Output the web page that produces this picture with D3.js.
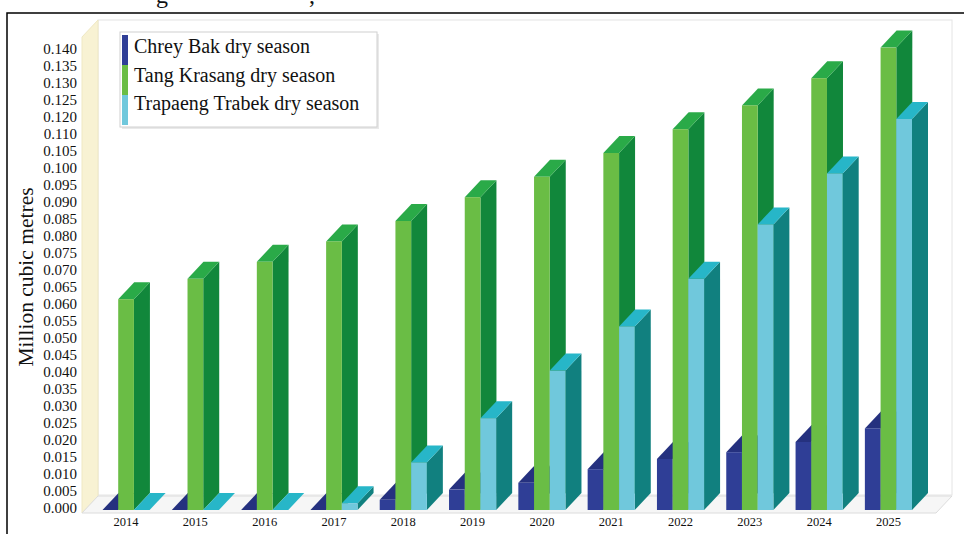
<!DOCTYPE html>
<html>
<head>
<meta charset="utf-8">
<script src="https://d3js.org/d3.v7.min.js"></script>
<style>
body{margin:0;background:#fff;}
svg text{font-family:"Liberation Serif","Times New Roman",serif;fill:#111;}
.domain{display:none;}
</style>
</head>
<body>
<div id="chart"></div>
<script>
var years = ["2014","2015","2016","2017","2018","2019","2020","2021","2022","2023","2024","2025"];
var seriesNames = ["Chrey Bak dry season","Tang Krasang dry season","Trapaeng Trabek dry season"];
var chreyBak = [0,0,0,0,0.003,0.006,0.008,0.012,0.015,0.017,0.020,0.024];
var tangKrasang = [0.062,0.068,0.073,0.079,0.085,0.092,0.098,0.105,0.112,0.119,0.127,0.136];
var trapaengTrabek = [0,0,0,0.002,0.014,0.027,0.041,0.054,0.068,0.084,0.099,0.115];
/* the printed axis skips 0.115 */
var tickLabels = ["0.000","0.005","0.010","0.015","0.020","0.025","0.030","0.035","0.040","0.045",
	"0.050","0.055","0.060","0.065","0.070","0.075","0.080","0.085","0.090","0.095",
	"0.100","0.105","0.110","0.120","0.125","0.130","0.135","0.140"];

var seriesData = [chreyBak, tangKrasang, trapaengTrabek];
var faceColors = [
	{front:"#2f3e96", top:"#25317f", side:"#1c2566"},
	{front:"#6abd45", top:"#2aaa48", side:"#11873b"},
	{front:"#70c8dc", top:"#27b6c8", side:"#11807f"}
];

var W = 964, H = 534;
var dx = 16, dy = 17; /* depth offset of the 3d bars */

var svg = d3.select("#chart").append("svg").attr("width",W).attr("height",H);

/* scales */
var x = d3.scaleBand().domain(years).range([102.5, 912]).paddingInner(0.32).paddingOuter(0);
var xs = d3.scaleBand().domain(d3.range(seriesNames.length)).range([0, x.bandwidth()]);
var y = d3.scaleLinear().domain([0, 0.135]).range([510, 51]);
var yLab = d3.scalePoint().domain(tickLabels).range([508, 49]);

var base = y(0);
var wallL = 82, wallB = 20;

/* cut-off caption line above the frame */
svg.append("text").attr("x",156).attr("y",3).attr("font-size",24).text("g");
svg.append("text").attr("x",309).attr("y",3).attr("font-size",24).text(",");

/* back wall */
svg.append("rect").attr("x",wallL+dx).attr("y",wallB)
	.attr("width",952-wallL-dx).attr("height",base+2-dy-wallB)
	.attr("fill","#fff").attr("stroke","#e4e4e4");
/* left wall */
svg.append("polygon")
	.attr("points",[[wallL,base+3],[wallL,wallB+dy],[wallL+dx,wallB],[wallL+dx,base+3-dy]].join(" "))
	.attr("fill","#f8f2d3").attr("stroke","#efe8c4");
/* floor */
svg.append("polygon")
	.attr("points",[[wallL,base+3],[952-dx,base+3],[952,base+3-dy],[wallL+dx,base+3-dy]].join(" "))
	.attr("fill","#f6f6f6").attr("stroke","#dcdcdc");

/* bars */
var bars = svg.append("g");
years.forEach(function(yr,i){
	seriesData.forEach(function(arr,s){
		var x0 = x(yr) + xs(s), w = xs.bandwidth();
		var yt = y(arr[i]), c = faceColors[s];
		var g = bars.append("g");
		g.append("polygon")
			.attr("points",[[x0+w,yt],[x0+w+dx,yt-dy],[x0+w+dx,base-dy],[x0+w,base]].join(" "))
			.attr("fill",c.side);
		g.append("polygon")
			.attr("points",[[x0,yt],[x0+w,yt],[x0+w+dx,yt-dy],[x0+dx,yt-dy]].join(" "))
			.attr("fill",c.top);
		g.append("rect").attr("x",x0).attr("y",yt)
			.attr("width",w).attr("height",base-yt).attr("fill",c.front);
	});
});

/* x labels */
svg.append("g").attr("transform","translate(0,"+(base+3)+")")
	.call(d3.axisBottom(x).tickSize(0).tickPadding(4))
	.selectAll("text").attr("font-size",12.5).attr("font-family","Liberation Serif");

/* y labels */
svg.append("g").attr("transform","translate(79,0)")
	.call(d3.axisLeft(yLab).tickSize(0).tickPadding(2))
	.selectAll("text").attr("font-size",15).attr("font-family","Liberation Serif");

svg.append("text").attr("transform","translate(33,277) rotate(-90)")
	.attr("text-anchor","middle").attr("font-size",21.5).text("Million cubic metres");

/* legend */
var lg = svg.append("g").attr("transform","translate(120,32)");
lg.append("rect").attr("x",2).attr("y",2).attr("width",257).attr("height",95).attr("fill","#e9e9e9");
lg.append("rect").attr("width",257).attr("height",95).attr("fill","#fff").attr("stroke","#d0d0d0");
seriesNames.forEach(function(n,k){
	lg.append("rect").attr("x",2).attr("y",3+k*30).attr("width",6).attr("height",30)
		.attr("fill",faceColors[k].front);
	lg.append("text").attr("x",14).attr("y",21+k*28.5).attr("font-size",20).text(n);
});

/* frame */
svg.append("rect").attr("x",7).attr("y",13).attr("width",1000).attr("height",600)
	.attr("fill","none").attr("stroke","#000").attr("stroke-width",1.5);
</script>
</body>
</html>
